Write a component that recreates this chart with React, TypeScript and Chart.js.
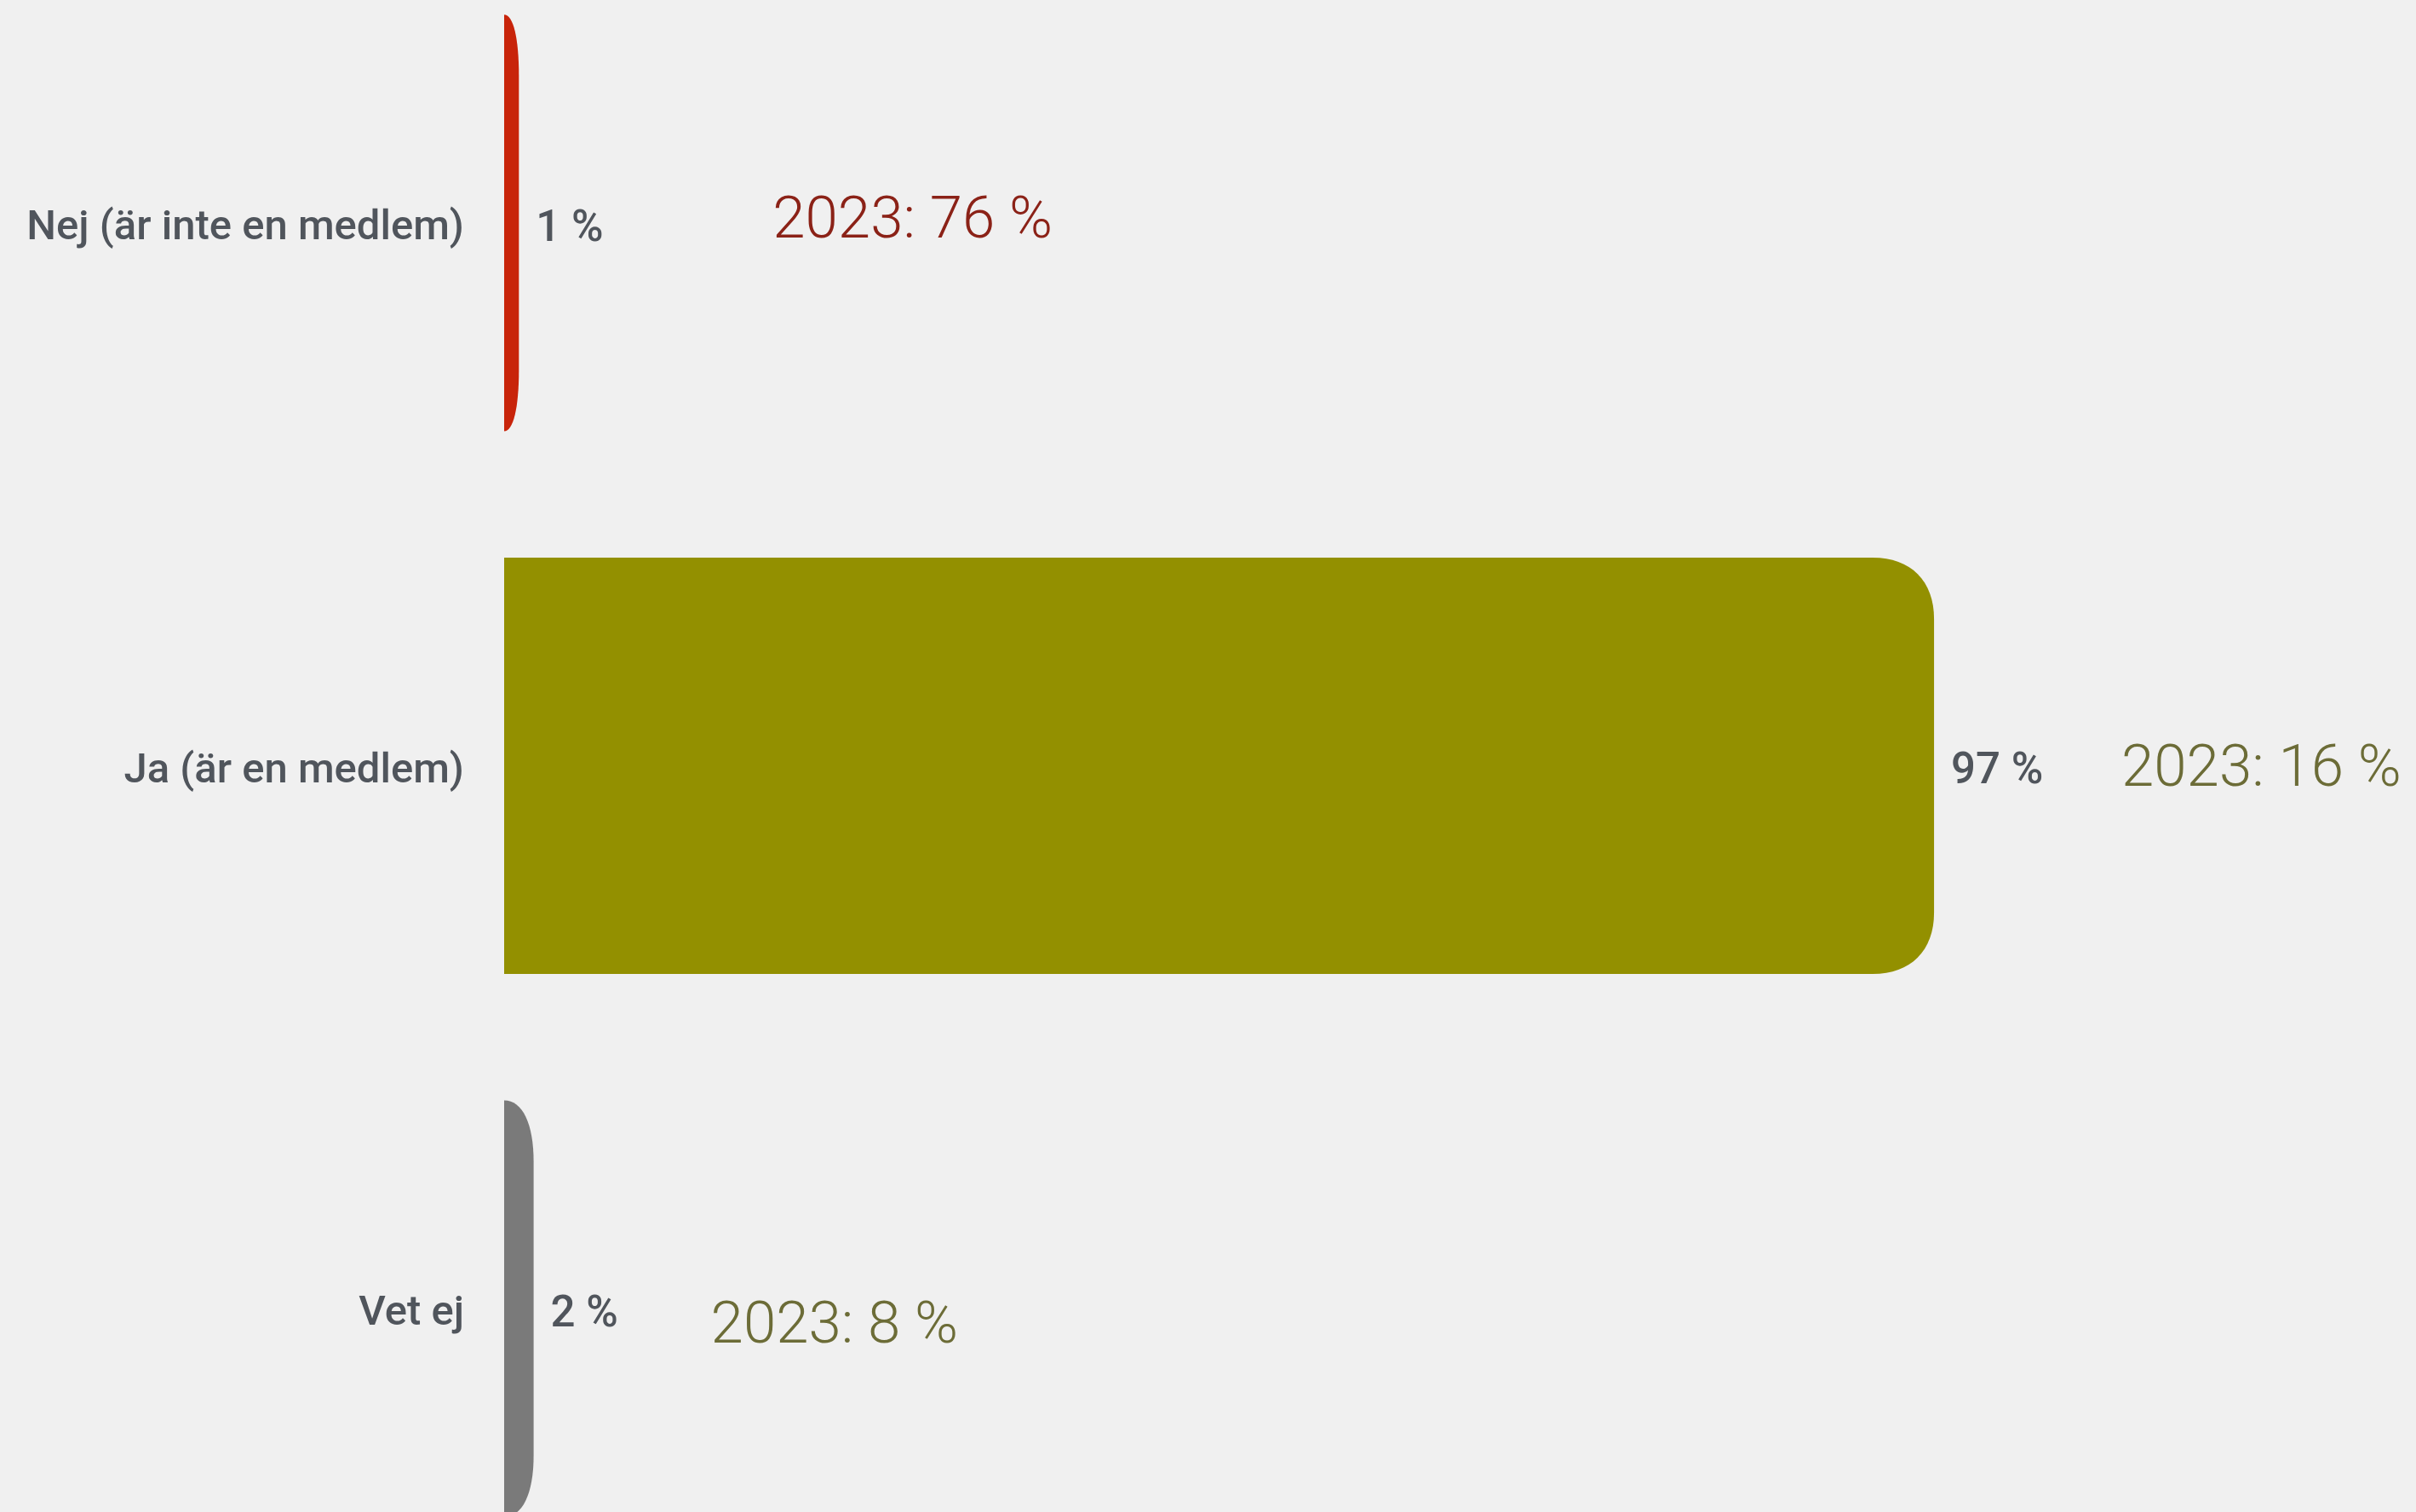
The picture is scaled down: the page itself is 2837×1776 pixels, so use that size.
import React, { useEffect, useRef } from "react";
import { Chart, registerables } from "chart.js";

Chart.register(...registerables);

// ---- data ----
const categories = ["Nej (är inte en medlem)", "Ja (är en medlem)", "Vet ej"];
const values2024 = [1, 97, 2];
const values2023 = [76, 16, 8];
const previousYear = "2023";

// ---- styles / layout (kept separate from data) ----
const barColors = ["#c8240a", "#939000", "#7a7a7a"];
const noteColors = ["#8b2217", "#6c6c37", "#6c6c37"];
const noteGap = [298, 220, 208];
const noteDy = [0, 6, 23];
const BG = "#f0f0f0";
const TEXT = "#50555c";
const FAMILY = '"Helvetica Neue", Roboto, "Liberation Sans", Arial, sans-serif';
const CORNER = 72;

const barPlugin = {
  id: "customBars",
  beforeDatasetDraw(chart: any, args: any) {
    const ctx = chart.ctx;
    const meta = args.meta;
    meta.data.forEach((el: any, i: number) => {
      const { x, y, base, height } = el.getProps(["x", "y", "base", "height"], true);
      const x0 = Math.min(base, x);
      const x1 = Math.max(base, x);
      const y0 = y - height / 2;
      const y1 = y + height / 2;
      const rx = Math.min(CORNER, x1 - x0);
      const ry = Math.min(CORNER, height / 2);
      const k = 0.62;
      ctx.save();
      ctx.fillStyle = barColors[i];
      ctx.beginPath();
      ctx.moveTo(x0, y0);
      ctx.lineTo(x1 - rx, y0);
      ctx.bezierCurveTo(x1 - rx + rx * k, y0, x1, y0 + ry - ry * k, x1, y0 + ry);
      ctx.lineTo(x1, y1 - ry);
      ctx.bezierCurveTo(x1, y1 - ry + ry * k, x1 - rx + rx * k, y1, x1 - rx, y1);
      ctx.lineTo(x0, y1);
      ctx.closePath();
      ctx.fill();
      ctx.restore();
    });
    return false;
  },
  afterDatasetsDraw(chart: any) {
    const ctx = chart.ctx;
    const meta = chart.getDatasetMeta(0);
    meta.data.forEach((el: any, i: number) => {
      const { x, y } = el.getProps(["x", "y"], true);
      ctx.save();
      ctx.textBaseline = "middle";
      ctx.textAlign = "left";
      ctx.fillStyle = TEXT;
      ctx.font = `500 51px ${FAMILY}`;
      ctx.fillText(`${values2024[i]} %`, x + 20, y + 8);
      ctx.fillStyle = noteColors[i];
      ctx.font = `300 69px ${FAMILY}`;
      ctx.fillText(`${previousYear}: ${values2023[i]} %`, x + noteGap[i], y + noteDy[i]);
      ctx.restore();
    });
  },
};

export default function App() {
  const ref = useRef<HTMLCanvasElement>(null);

  useEffect(() => {
    if (!ref.current) return;
    const chart = new Chart(ref.current, {
      type: "bar",
      data: {
        labels: categories,
        datasets: [
          {
            data: values2024,
            backgroundColor: barColors,
            categoryPercentage: 1,
            barPercentage: 0.767,
          },
        ],
      },
      options: {
        indexAxis: "y",
        animation: false,
        responsive: false,
        devicePixelRatio: 1,
        layout: { padding: { left: 0, right: 514, top: 0, bottom: 0 } },
        plugins: {
          legend: { display: false },
          tooltip: { enabled: false },
        },
        scales: {
          x: {
            min: 0,
            max: 100,
            display: false,
          },
          y: {
            type: "category",
            grid: { display: false, drawTicks: false },
            border: { display: false },
            ticks: {
              color: TEXT,
              padding: 47,
              labelOffset: 7,
              font: { family: FAMILY, size: 49, weight: "500" },
            },
            afterFit: (scale: any) => {
              scale.width = 592;
              scale.paddingTop = 0;
              scale.paddingBottom = 0;
            },
          },
        },
      },
      plugins: [barPlugin],
    } as any);
    return () => chart.destroy();
  }, []);

  return (
    <div
      style={{
        position: "fixed",
        left: 0,
        top: 0,
        width: 2837,
        height: 1776,
        overflow: "hidden",
        background: BG,
      }}
    >
      <canvas
        ref={ref}
        width={2837}
        height={1913}
        style={{ position: "absolute", left: 0, top: -57, width: 2837, height: 1913 }}
      />
    </div>
  );
}
